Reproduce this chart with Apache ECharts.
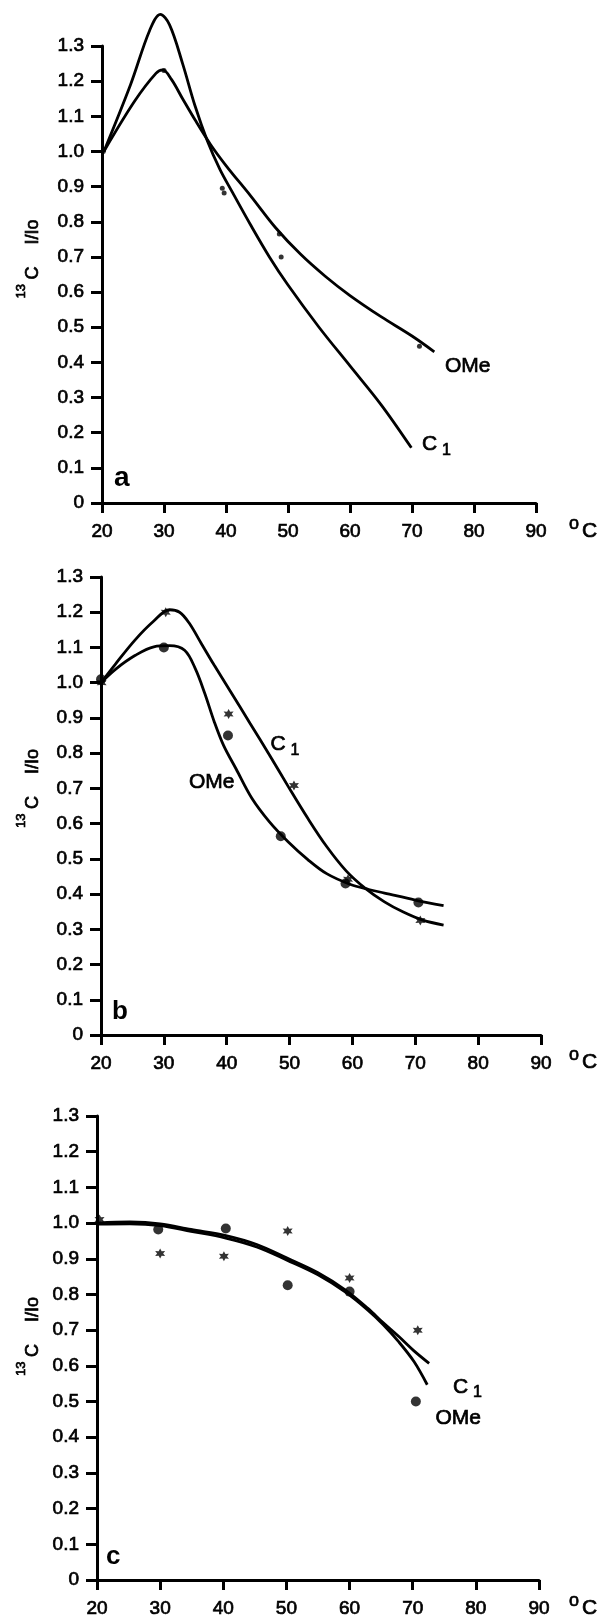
<!DOCTYPE html>
<html>
<head>
<meta charset="utf-8">
<script src="https://cdn.jsdelivr.net/npm/echarts@6/dist/echarts.min.js"></script>
<style>
html,body{margin:0;padding:0;background:#fff;}
#chart{width:603px;height:1620px;}
</style>
</head>
<body>
<div id="chart"></div>
<script>
// ---- Data ----
const tempTicks = [20, 30, 40, 50, 60, 70, 80, 90];
const ratioTickLabels = ['0','0.1','0.2','0.3','0.4','0.5','0.6','0.7','0.8','0.9','1.0','1.1','1.2','1.3'];
const panelLetters = ['a', 'b', 'c'];
const seriesNames = ['C1', 'OMe'];

// Panel a
const aC1Curve = [[20.3,1.0],[24.6,1.19],[27.7,1.345],[29.4,1.39],[30.9,1.36],[33,1.25],[35,1.13],[37,1.03],[39,0.95],[41,0.885],[44,0.79],[47,0.70],[50,0.62],[55,0.50],[60,0.39],[65,0.28],[69.9,0.157]];
const aOMeCurve = [[20.3,1.0],[25.3,1.144],[28.7,1.222],[29.8,1.232],[31.2,1.205],[33,1.15],[35,1.09],[37.5,1.02],[40,0.96],[44,0.873],[48,0.783],[52,0.708],[56,0.645],[60,0.59],[65,0.53],[70,0.475],[73.6,0.43]];
const aC1Points = [[20.2,1.0],[39.7,0.882],[48.9,0.70]];
const aOMePoints = [[30.0,1.23],[39.4,0.895],[48.6,0.765],[71.2,0.446]];

// Panel b
const bC1Curve = [[20,1.0],[22.3,1.053],[25.4,1.121],[28.4,1.175],[30.9,1.207],[32.5,1.2],[34,1.17],[36,1.11],[38,1.05],[40.6,0.975],[43.7,0.885],[46.8,0.795],[49.8,0.705],[52.9,0.615],[55.9,0.535],[59.0,0.466],[62.0,0.417],[65.1,0.378],[68.1,0.349],[71.2,0.326],[74.5,0.312]];
const bOMeCurve = [[20,1.0],[22.3,1.038],[25.4,1.077],[28.4,1.102],[30.9,1.105],[33.3,1.092],[35,1.04],[36.5,0.97],[38,0.89],[39.5,0.822],[41.5,0.755],[44,0.672],[46.8,0.605],[49.8,0.548],[52.9,0.498],[55.9,0.458],[59.6,0.428],[62.6,0.413],[65.1,0.403],[70.0,0.383],[74.5,0.367]];
const bC1Points = [[20.1,1.0],[30.3,1.2],[40.3,0.911],[50.7,0.708],[59.3,0.442],[70.8,0.325]];
const bOMePoints = [[20.0,1.01],[30.0,1.10],[40.2,0.85],[48.6,0.564],[58.9,0.43],[70.5,0.376]];

// Panel c
const cC1Curve = [[20,1.0],[25.2,1.003],[30,0.998],[34.9,0.982],[40.4,0.965],[45.3,0.94],[50.1,0.902],[55,0.861],[59.3,0.813],[62.9,0.761],[65.3,0.721],[67.8,0.682],[70.2,0.642],[72.6,0.607]];
const cOMeCurve = [[20,0.997],[25.2,0.998],[30,0.993],[34.9,0.977],[40.4,0.958],[45.3,0.933],[50.1,0.896],[55,0.855],[59.3,0.807],[62.9,0.756],[65.3,0.716],[67.8,0.667],[70.2,0.612],[72.3,0.547]];
const cC1Points = [[20.4,1.01],[30.0,0.915],[40.1,0.907],[50.2,0.978],[60.0,0.846],[70.8,0.70]];
const cOMePoints = [[29.7,0.982],[40.4,0.985],[50.2,0.826],[60.0,0.808],[70.5,0.50]];

// ---- Layout / style ----
const FONT = '"Liberation Sans", Arial, Helvetica, sans-serif';
const grids = [
  {left: 102, top: 46, width: 434, height: 457},
  {left: 101, top: 577, width: 440, height: 458},
  {left: 97, top: 1116, width: 442, height: 464}
];

// asterisk symbol
function starPath(n, ro, ri) {
  let p = '';
  for (let i = 0; i < 2 * n; i++) {
    const r = i % 2 === 0 ? ro : ri;
    const a = Math.PI * i / n - Math.PI / 2;
    const x = (10 + r * Math.cos(a)).toFixed(2), y = (10 + r * Math.sin(a)).toFixed(2);
    p += (i === 0 ? 'M' : 'L') + x + ',' + y;
  }
  return 'path://' + p + 'Z';
}
const ASTER = starPath(6, 10, 5.2);

const labelInk = {textBorderColor: '#000', textBorderWidth: 0.7};

const xAxes = grids.map((g, i) => ({
  type: 'value', gridIndex: i,
  min: tempTicks[0], max: tempTicks[tempTicks.length - 1], interval: tempTicks[1] - tempTicks[0],
  axisLine: {show: true, onZero: false, lineStyle: {color: '#000', width: 3}},
  axisTick: {show: true, length: 10, lineStyle: {color: '#000', width: 3}},
  axisLabel: Object.assign({color: '#000', fontSize: 19, fontFamily: FONT, margin: 19}, labelInk),
  splitLine: {show: false}
}));
const yAxes = grids.map((g, i) => ({
  type: 'value', gridIndex: i,
  min: 0, max: 1.3, interval: 0.1,
  axisLine: {show: true, onZero: false, lineStyle: {color: '#000', width: 3}},
  axisTick: {show: true, length: 11, lineStyle: {color: '#000', width: 3}},
  axisLabel: Object.assign({color: '#000', fontSize: 19, fontFamily: FONT, margin: 18,
    formatter: v => ratioTickLabels[Math.round(v * 10)]}, labelInk),
  splitLine: {show: false}
}));

function curve(name, data, i) {
  return {type: 'line', name, xAxisIndex: i, yAxisIndex: i, data, smooth: 0.35,
    symbol: 'none', clip: false, silent: true, z: 2,
    lineStyle: {color: '#000', width: 2.8}};
}
function pts(name, data, i, symbol, size) {
  return {type: 'scatter', name, xAxisIndex: i, yAxisIndex: i, data, symbol, symbolSize: size,
    clip: false, silent: true, z: 3, itemStyle: {color: '#000'}};
}

const series = [
  curve(seriesNames[0], aC1Curve, 0), curve(seriesNames[1], aOMeCurve, 0),
  pts(seriesNames[0], aC1Points, 0, 'circle', 5), pts(seriesNames[1], aOMePoints, 0, 'circle', 5),
  curve(seriesNames[0], bC1Curve, 1), curve(seriesNames[1], bOMeCurve, 1),
  pts(seriesNames[0], bC1Points, 1, ASTER, 10), pts(seriesNames[1], bOMePoints, 1, 'circle', 10),
  curve(seriesNames[0], cC1Curve, 2), curve(seriesNames[1], cOMeCurve, 2),
  pts(seriesNames[0], cC1Points, 2, ASTER, 10), pts(seriesNames[1], cOMePoints, 2, 'circle', 10)
];

// ---- Text annotations ----
function txt(text, x, y, size, opts) {
  opts = opts || {};
  const st = {text, fill: '#000', fontSize: size, fontFamily: FONT, fontWeight: opts.weight || 'normal',
      align: opts.align || 'left', verticalAlign: 'middle'};
  if (!opts.weight) { st.stroke = '#000'; st.lineWidth = 0.7; }
  return {type: 'text', x, y, rotation: opts.rot || 0, silent: true, z: 10, style: st};
}
const graphics = [];
// y-axis titles (rotated), centre along the axis
[257.5, 787, 1335].forEach(cy => {
  graphics.push(txt('13', 21, cy + 41, 13, {rot: Math.PI / 2}));
  graphics.push(txt('C', 33, cy + 22, 18, {rot: Math.PI / 2}));
  graphics.push(txt('I/Io', 33, cy - 13, 18, {rot: Math.PI / 2}));
});
// degree C units
[503, 1034, 1580].forEach(ay => {
  graphics.push(txt('o', 569, ay + 21, 18));
  graphics.push(txt('C', 582, ay + 28, 21));
});
// panel letters
graphics.push(txt(panelLetters[0], 114, 478.5, 28, {weight: 'bold'}));
graphics.push(txt(panelLetters[1], 112, 1011.5, 26, {weight: 'bold'}));
graphics.push(txt(panelLetters[2], 106, 1557, 26, {weight: 'bold'}));
// curve labels
function c1Label(x, y) {
  graphics.push(txt('C', x, y, 21));
  graphics.push(txt('1', x + 20, y + 6, 16));
}
graphics.push(txt(seriesNames[1], 445, 366.5, 21));
c1Label(422, 444.3);
c1Label(270.5, 744.3);
graphics.push(txt(seriesNames[1], 189, 782.6, 21));
c1Label(453, 1387);
graphics.push(txt(seriesNames[1], 435.5, 1418.6, 21));

const chart = echarts.init(document.getElementById('chart'), null, {renderer: 'canvas'});
chart.setOption({
  animation: false,
  backgroundColor: '#fff',
  grid: grids.map(g => Object.assign({containLabel: false}, g)),
  xAxis: xAxes,
  yAxis: yAxes,
  series,
  graphic: graphics
});
</script>
</body>
</html>
